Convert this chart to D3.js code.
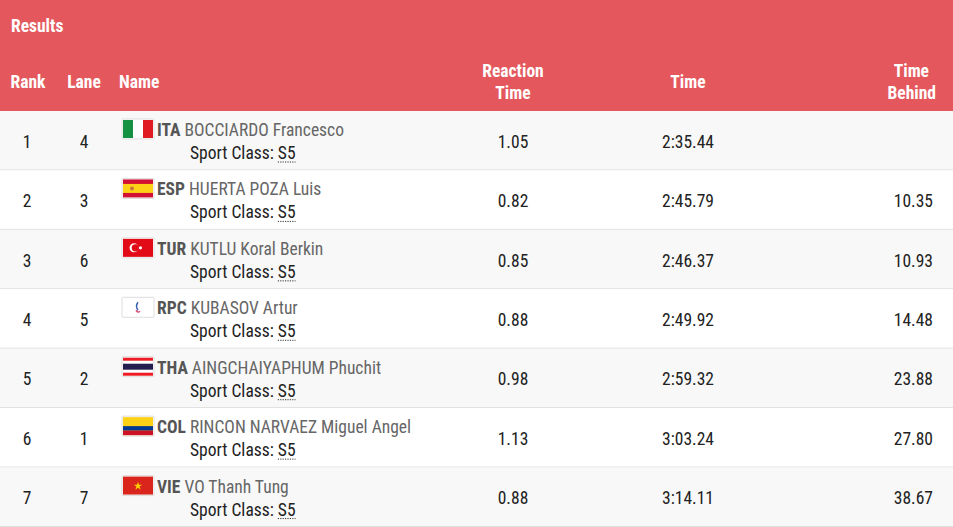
<!DOCTYPE html>
<html><head><meta charset="utf-8">
<script src="https://cdn.jsdelivr.net/npm/d3@7"></script>
<style>body{margin:0;background:#fff}svg{display:block;font-family:"Liberation Sans Narrow","Roboto Condensed",Roboto,sans-serif}</style>
</head><body><svg id="c" width="953" height="527"></svg>
<script>
const ranks=[1,2,3,4,5,6,7];
const lanes=[4,3,6,5,2,1,7];
const nocs=["ITA","ESP","TUR","RPC","THA","COL","VIE"];
const names=["BOCCIARDO Francesco","HUERTA POZA Luis","KUTLU Koral Berkin","KUBASOV Artur","AINGCHAIYAPHUM Phuchit","RINCON NARVAEZ Miguel Angel","VO Thanh Tung"];
const sportClass=["S5","S5","S5","S5","S5","S5","S5"];
const reaction=["1.05","0.82","0.85","0.88","0.98","1.13","0.88"];
const times=["2:35.44","2:45.79","2:46.37","2:49.92","2:59.32","3:03.24","3:14.11"];
const behind=["","10.35","10.93","14.48","23.88","27.80","38.67"];

const svg=d3.select("#c");
const W=953, headH=111;
const y=d3.scaleBand().domain(ranks).range([headH,527]);
svg.append("rect").attr("width",W).attr("height",headH).attr("fill","#e4585d");
const hw=svg.append("g").attr("fill","#fff").attr("font-weight","bold").attr("font-size",17.5);
hw.append("text").attr("x",11).attr("y",32).text("Results");
hw.append("text").attr("x",28).attr("y",88).attr("text-anchor","middle").text("Rank");
hw.append("text").attr("x",84).attr("y",88).attr("text-anchor","middle").text("Lane");
hw.append("text").attr("x",119).attr("y",88).text("Name");
hw.append("text").attr("x",513).attr("y",77).attr("text-anchor","middle").text("Reaction");
hw.append("text").attr("x",513).attr("y",99).attr("text-anchor","middle").text("Time");
hw.append("text").attr("x",688).attr("y",88).attr("text-anchor","middle").text("Time");
hw.append("text").attr("x",929).attr("y",77).attr("text-anchor","end").text("Time");
hw.append("text").attr("x",936).attr("y",99).attr("text-anchor","end").text("Behind");

function flag(g,noc){
  const fw=32,fh=20;
  g.append("rect").attr("width",fw).attr("height",fh).attr("fill","#fff").attr("stroke","#ddd").attr("rx",1);
  const f=g.append("g").attr("transform","translate(1,1)");
  const w=30,h=18;
  if(noc==="ITA"){f.append("rect").attr("width",10).attr("height",h).attr("fill","#149142");f.append("rect").attr("x",20).attr("width",10).attr("height",h).attr("fill","#e11b22");}
  if(noc==="ESP"){f.append("rect").attr("width",w).attr("height",h).attr("fill","#d21034");f.append("rect").attr("y",4.5).attr("width",w).attr("height",9).attr("fill","#fcd116");f.append("circle").attr("cx",9).attr("cy",9).attr("r",2).attr("fill","#c8763a");}
  if(noc==="TUR"){f.append("rect").attr("width",w).attr("height",h).attr("fill","#e30a17");f.append("circle").attr("cx",11).attr("cy",9).attr("r",4.5).attr("fill","#fff");f.append("circle").attr("cx",12.3).attr("cy",9).attr("r",3.6).attr("fill","#e30a17");f.append("circle").attr("cx",17.5).attr("cy",9).attr("r",1.6).attr("fill","#fff");}
  if(noc==="RPC"){f.append("path").attr("d","M15 4 q-3 4 0 8").attr("stroke","#3b5fb0").attr("fill","none").attr("stroke-width",1.5);f.append("path").attr("d","M13 12 q2 3 4 1").attr("stroke","#e0507a").attr("fill","none").attr("stroke-width",1.5);}
  if(noc==="THA"){f.append("rect").attr("width",w).attr("height",h).attr("fill","#ed1c24");f.append("rect").attr("y",3).attr("width",w).attr("height",12).attr("fill","#fff");f.append("rect").attr("y",6).attr("width",w).attr("height",6).attr("fill","#241d4f");}
  if(noc==="COL"){f.append("rect").attr("width",w).attr("height",h).attr("fill","#fcd116");f.append("rect").attr("y",9).attr("width",w).attr("height",4.5).attr("fill","#003893");f.append("rect").attr("y",13.5).attr("width",w).attr("height",4.5).attr("fill","#ce1126");}
  if(noc==="VIE"){f.append("rect").attr("width",w).attr("height",h).attr("fill","#da251d");
    const star=d3.symbol().type(d3.symbolStar).size(22);f.append("path").attr("d",star()).attr("transform","translate(15,9.5)").attr("fill","#ffcd00");}
}

const rows=svg.selectAll("g.row").data(ranks.map((r,i)=>i)).join("g").attr("class","row")
  .attr("transform",i=>`translate(0,${y(ranks[i])})`);
rows.append("rect").attr("width",W).attr("height",y.bandwidth()).attr("fill",i=>i%2===0?"#f8f8f8":"#fff");
rows.append("line").attr("x1",0).attr("x2",W).attr("y1",y.bandwidth()-0.5).attr("y2",y.bandwidth()-0.5).attr("stroke","#dedede");
const cy=y.bandwidth()/2+7;
const fs=17.5;
rows.append("text").attr("x",27).attr("y",cy).attr("text-anchor","middle").attr("font-size",fs).attr("fill","#222").text(i=>ranks[i]);
rows.append("text").attr("x",84).attr("y",cy).attr("text-anchor","middle").attr("font-size",fs).attr("fill","#222").text(i=>lanes[i]);
rows.append("text").attr("x",513).attr("y",cy).attr("text-anchor","middle").attr("font-size",fs).attr("fill","#222").text(i=>reaction[i]);
rows.append("text").attr("x",688).attr("y",cy).attr("text-anchor","middle").attr("font-size",fs).attr("fill","#222").text(i=>times[i]);
rows.append("text").attr("x",933).attr("y",cy).attr("text-anchor","end").attr("font-size",fs).attr("fill","#222").text(i=>behind[i]);
rows.each(function(i){
  const g=d3.select(this);
  flag(g.append("g").attr("transform","translate(122,8)"),nocs[i]);
  const t=g.append("text").attr("x",157).attr("y",25).attr("font-size",17.5);
  t.append("tspan").attr("font-weight","bold").attr("fill","#555").text(nocs[i]);
  t.append("tspan").attr("fill","#666").text(" "+names[i]);
  const s=g.append("text").attr("x",190).attr("y",48).attr("font-size",17.5).attr("fill","#222");
  s.append("tspan").text("Sport Class: ");
  const c=s.append("tspan").text(sportClass[i]);
  const bb=c.node().getBBox();
  g.append("line").attr("x1",bb.x).attr("x2",bb.x+bb.width).attr("y1",51).attr("y2",51).attr("stroke","#333").attr("stroke-dasharray","1.2,1.2");
});
</script></body></html>
